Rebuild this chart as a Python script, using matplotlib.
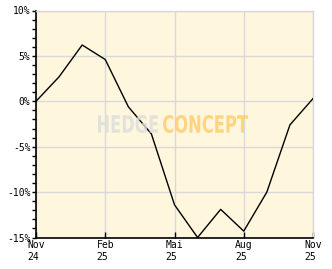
import numpy as np
import matplotlib.pyplot as plt
from matplotlib.ticker import MultipleLocator
from matplotlib.textpath import TextPath
from matplotlib.patches import PathPatch
from matplotlib.font_manager import FontProperties
from matplotlib.transforms import Affine2D

# monthly performance, Nov 24 .. Nov 25 (percent)
months = np.arange(13)
perf = [0.0, 2.7, 6.2, 4.6, -0.6, -3.6, -11.4, -15.0, -11.9, -14.3, -10.0, -2.6, 0.3]
xtick_pos = [0, 3, 6, 9, 12]
xtick_labels = ["Nov\n24", "Feb\n25", "Mai\n25", "Aug\n25", "Nov\n25"]
ytick_pos = [-15, -10, -5, 0, 5, 10]
ytick_labels = ["-15%", "-10%", "-5%", "0%", "5%", "10%"]

bg = "#fff6de"
grid_c = "#d9d9d9"
W, H = 332, 269

fig = plt.figure(figsize=(W / 100, H / 100), dpi=100)
fig.patch.set_facecolor("white")
ax = fig.add_axes([36 / W, 1 - 237.5 / H, 277 / W, 227 / H])
ax.set_facecolor(bg)

ax.plot(months, perf, color="black", lw=1.0, zorder=3)

ax.set_xlim(0, 12)
ax.set_ylim(-15, 10)
ax.set_xticks(xtick_pos)
ax.set_xticklabels(xtick_labels, fontfamily="DejaVu Sans Mono", fontsize=7,
                   multialignment="left")
ax.set_yticks(ytick_pos)
ax.set_yticklabels(ytick_labels, fontfamily="DejaVu Sans Mono", fontsize=7)
ax.yaxis.set_minor_locator(MultipleLocator(1))

ax.tick_params(axis="x", direction="in", length=4, width=1, pad=2, color="black")
ax.tick_params(axis="y", which="both", direction="out", length=3, width=1, pad=1, color="black")

ax.grid(True, color=grid_c, lw=1, zorder=0)
ax.set_axisbelow(True)
for s in ["top", "right"]:
    ax.spines[s].set_color(grid_c)
    ax.spines[s].set_linewidth(1)
for s in ["left", "bottom"]:
    ax.spines[s].set_color("black")
    ax.spines[s].set_linewidth(1.2)


# watermark, squeezed into a box given in pixels (x0, x1, top, bottom)
def stamp(txt, x0, x1, top, bottom, color):
    tp = TextPath((0, 0), txt, size=10, prop=FontProperties(family="DejaVu Sans", weight="bold"))
    ext = tp.get_extents()
    sx = (x1 - x0) / ext.width
    sy = (bottom - top) / ext.height
    tr = (Affine2D().translate(-ext.x0, -ext.y0).scale(sx, sy)
          .translate(x0, H - bottom).scale(1 / W, 1 / H))
    fig.patches.append(PathPatch(tr.transform_path(tp), transform=fig.transFigure,
                                 facecolor=color, edgecolor="none", alpha=0.8, zorder=5))


stamp("HEDGE", 98, 158, 115, 133, "#dcdcdc")
stamp("CONCEPT", 163, 248, 115, 133, "#ffcc66")

fig.savefig("out.png", dpi=100)
